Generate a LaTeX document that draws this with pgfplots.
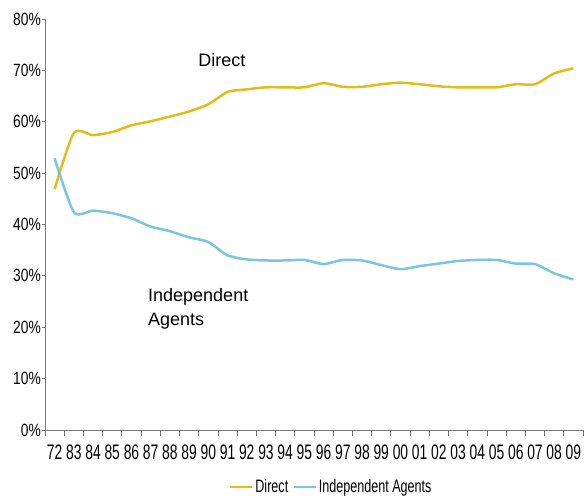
\documentclass[border=0pt]{standalone}
\usepackage{fontspec}
\setmainfont{Liberation Sans}
\newfontfamily\xtickfont[FakeStretch=0.66]{Liberation Sans}
\newfontfamily\ytickfont[FakeStretch=0.78]{Liberation Sans}
\newfontfamily\legfont[FakeStretch=0.7]{Liberation Sans}
\usepackage{pgfplots}
\pgfplotsset{compat=1.18}
\definecolor{dirc}{RGB}{224,190,26}
\definecolor{indc}{RGB}{122,198,224}
\definecolor{axc}{RGB}{120,120,120}
\begin{document}
\begin{tikzpicture}
\path[use as bounding box] (0,0) rectangle (585bp,497bp);
\begin{axis}[
  at={(45bp,67bp)}, anchor=south west,
  width=538bp, height=411bp, scale only axis,
  xmin=-0.5, xmax=27.5, ymin=0, ymax=80,
  axis lines*=left,
  axis line style={axc, line width=0.8bp},
  tick align=outside,
  xtick={0,...,27},
  xticklabels={72,83,84,85,86,87,88,89,90,91,92,93,94,95,96,97,98,99,00,01,02,03,04,05,06,07,08,09},
  major x tick style={draw=none},
  minor xtick={-0.5,0.5,...,27.5},
  minor tick length=6bp,
  minor x tick style={axc, line width=0.8bp},
  ytick={0,10,...,80},
  yticklabels={0\%,10\%,20\%,30\%,40\%,50\%,60\%,70\%,80\%},
  major tick length=3bp,
  y tick style={axc, line width=0.8bp},
  xticklabel style={font=\xtickfont\fontsize{21bp}{21bp}\selectfont, inner sep=1bp, yshift=-11bp},
  yticklabel style={font=\ytickfont\fontsize{17.7bp}{18bp}\selectfont, inner sep=1bp},
  legend style={at={(0.532,-0.139)}, anchor=center, draw=none, fill=none,
    legend columns=2, font=\legfont\fontsize{18bp}{18bp}\selectfont,
    /tikz/every even column/.append style={column sep=2bp}},
  legend image code/.code={\draw[#1, line width=2.5bp] (0bp,0bp) -- (22bp,0bp);},
]
\addplot[dirc, line width=2.5bp, smooth, tension=0.4] coordinates {
(0,46.9) (1,57.8) (2,57.4) (3,58.0) (4,59.3) (5,60.1) (6,61.0) (7,62.0) (8,63.4) (9,65.8)
(10,66.3) (11,66.7) (12,66.7) (13,66.7) (14,67.5) (15,66.8) (16,66.8) (17,67.3) (18,67.6) (19,67.3)
(20,66.9) (21,66.7) (22,66.7) (23,66.7) (24,67.3) (25,67.3) (26,69.4) (27,70.4)};
\addlegendentry{Direct}
\addplot[indc, line width=2.5bp, smooth, tension=0.4] coordinates {
(0,52.9) (1,42.4) (2,42.7) (3,42.2) (4,41.2) (5,39.6) (6,38.7) (7,37.5) (8,36.6) (9,34.0)
(10,33.2) (11,33.0) (12,33.0) (13,33.1) (14,32.3) (15,33.1) (16,33.0) (17,32.1) (18,31.3) (19,31.9)
(20,32.4) (21,32.9) (22,33.1) (23,33.1) (24,32.4) (25,32.3) (26,30.5) (27,29.3)};
\addlegendentry{Independent Agents}
\node[font=\fontsize{18bp}{20bp}\selectfont] at (axis cs:8.7,72) {Direct};
\node[anchor=west, align=left, font=\fontsize{18bp}{24bp}\selectfont, inner sep=0pt] at (axis cs:4.86,23.5) {Independent\\Agents};
\end{axis}
\end{tikzpicture}
\end{document}
